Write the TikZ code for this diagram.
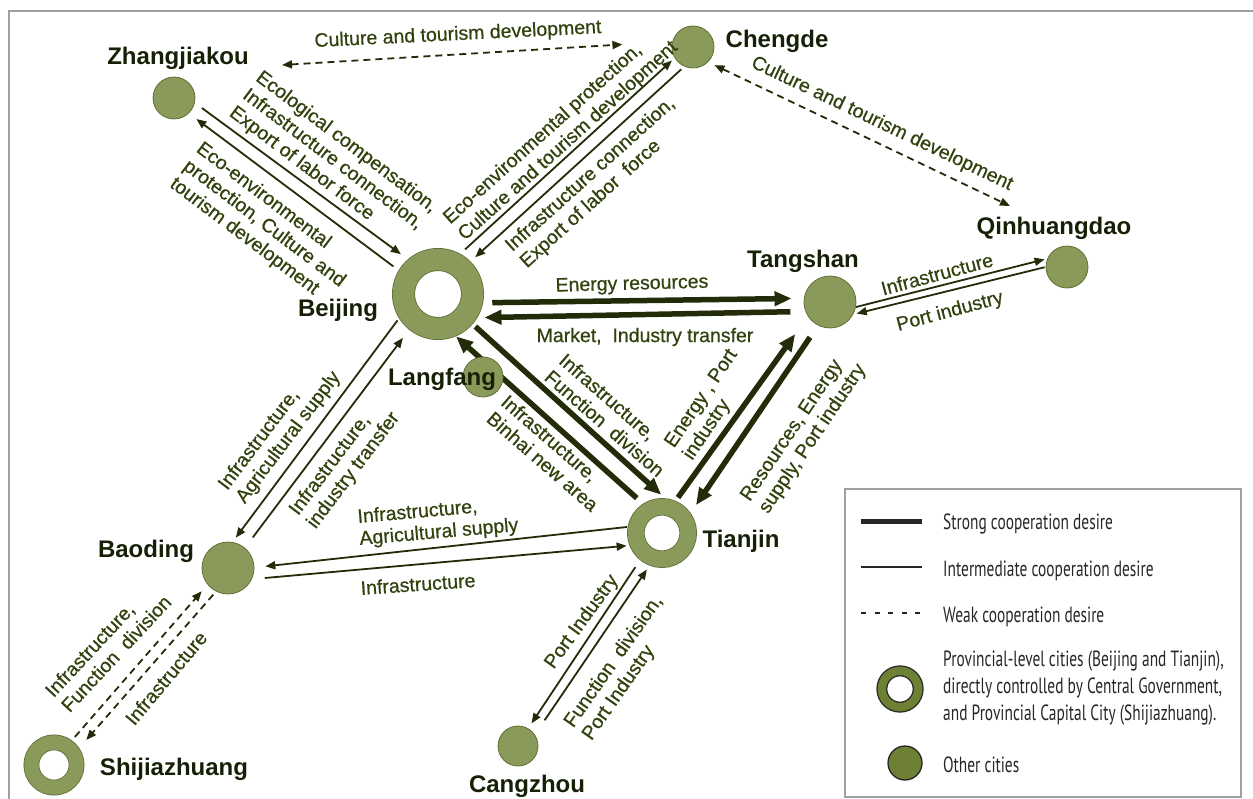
\documentclass[tikz,border=0pt]{standalone}
\usepackage{fontspec}
\setmainfont{Liberation Sans}
\newfontfamily\labelfont{Liberation Sans}[FakeBold=0.6]
\newfontfamily\legendfont{PT Sans}[FakeStretch=0.7]
\usetikzlibrary{arrows.meta}
\pgfdeclarelayer{bg}
\pgfsetlayers{bg,main}
\definecolor{cityfill}{RGB}{138,154,91}
\definecolor{cityedge}{RGB}{96,110,52}
\definecolor{linkcol}{RGB}{34,44,8}
\definecolor{labcol}{RGB}{50,66,14}
\definecolor{namecol}{RGB}{22,32,6}
\definecolor{keyfill}{RGB}{110,128,52}
\definecolor{framecol}{RGB}{160,160,160}

\begin{document}
\begin{tikzpicture}[x=1pt, y=-1pt,
  >={Triangle[length=10pt,width=8pt]},
  city/.style={circle, fill=cityfill, draw=cityedge, line width=0.8pt, inner sep=0pt, minimum size=#1},
  city/.default=42pt,
  ring/.style n args={3}{circle, draw=cityedge, line width=0.8pt, double=cityfill,
              double distance=#2, fill=white, inner sep=0pt, minimum size=#1, outer sep=#3},
  cname/.style={font=\bfseries\fontsize{24}{28}\selectfont, text=namecol, inner sep=0pt, anchor=base},
  lab/.style={font=\labelfont\fontsize{19.5}{22}\selectfont, text=labcol, align=left, inner sep=0pt},
  mid/.style={draw=linkcol, line width=1.8pt, ->},
  strong/.style={draw=linkcol, line width=5.5pt, -{Triangle[length=17pt,width=14pt]}},
  weak/.style={draw=linkcol, line width=1.8pt, dash pattern=on 7pt off 5pt},
  keytxt/.style={font=\legendfont\fontsize{22}{27}\selectfont, text=black!85, align=left, inner sep=0pt}]
\useasboundingbox (0,0) rectangle (1253,799);
\draw[framecol, line width=1.2pt] (1253,11) -- (9,11) -- (9,799);

\node[ring={69pt}{21.4pt}{11.5pt}] (bj) at (438,294) {};
\node[ring={52.5pt}{15.9pt}{8.75pt}] (tj) at (662,533) {};
\node[ring={45.2pt}{14.2pt}{7.9pt}] (sjz) at (54,765) {};
\node[city] (zj) at (174,98) {};
\node[city] (cd) at (693,47) {};
\node[city=40pt] (lf) at (483,377) {};
\node[city=52pt] (ts) at (830,302) {};
\node[city] (qhd) at (1067,267) {};
\node[city=52pt] (bd) at (228,568) {};
\node[city=40pt] (cz) at (518,746) {};

\node[cname] (zjl) at (178,65) {Zhangjiakou};
\node[cname] (cdl) at (777,48) {Chengde};
\node[cname] (bjl) at (338,317) {Beijing};
\node[cname] (lfl) at (442,386) {Langfang};
\node[cname] (tsl) at (803,268) {Tangshan};
\node[cname] (qhdl) at (1054,235) {Qinhuangdao};
\node[cname] (tjl) at (741,547) {Tianjin};
\node[cname] (bdl) at (146,557) {Baoding};
\node[cname] (sjzl) at (174,775) {Shijiazhuang};
\node[cname] (czl) at (527,792) {Cangzhou};

\coordinate (zjcd) at (282,65);
\coordinate (cdqhd) at (1010,206);
\begin{pgfonlayer}{bg}
\draw[weak, <->, shorten >=50pt] (zjcd) -- (cd.165);
\draw[weak, <->, shorten <=7pt] (cd.-45) -- (cdqhd);
\draw[mid, shorten <=8.8pt, shorten >=8.6pt] (zj.-13.6) -- (bj.131.3);
\draw[mid, shorten <=6.5pt, shorten >=9.4pt] (bj.149) -- (zj.-46.3);
\draw[mid, shorten <=6.4pt, shorten >=3.7pt] (bj.61.5) -- (cd.211.8);
\draw[mid, shorten <=4.1pt, shorten >=6.3pt] (cd.246.5) -- (bj.45);
\draw[strong, shorten <=9.1pt, shorten >=12.3pt] (bj.-11.5) -- (ts.172.5);
\draw[strong, shorten <=14.9pt, shorten >=7pt] (ts.201.5) -- (bj.-31.9);
\draw[mid, shorten >=2.8pt] (ts.-11.3) -- (qhd.157.8);
\draw[mid, shorten <=1pt, shorten >=3.5pt] (qhd.180) -- (ts.-28.3);
\draw[strong, shorten <=3.6pt, shorten >=5.1pt] (bj.-41.7) -- (tj.85.7);
\draw[strong, shorten <=8.3pt] (tj.123.7) -- (bj.-67.5);
\draw[strong, shorten <=4pt, shorten >=21.7pt] (tj.67.4) -- (ts.213);
\draw[strong, shorten <=14.2pt, shorten >=9.4pt] (ts.243.4) -- (tj.35.8);
\draw[mid, shorten <=2.5pt, shorten >=5.4pt] (bj.212.4) -- (bd.80.8);
\draw[mid, shorten <=13pt, shorten >=10.2pt] (bd.50.2) -- (bj.231.5);
\draw[mid, shorten <=0.5pt, shorten >=11pt] (tj.170.3) -- (bd.1.5);
\draw[mid, shorten <=12.9pt, shorten >=2.7pt] (bd.-25.9) -- (tj.201.8);
\draw[weak, ->, shorten <=4.5pt, shorten >=8.8pt] (sjz.54.1) -- (bd.219.2);
\draw[weak, ->, shorten <=4.2pt, shorten >=10.7pt] (bd.243.4) -- (sjz.34.4);
\draw[mid, shorten <=8.4pt, shorten >=6pt] (tj.231.5) -- (cz.60.8);
\draw[mid, shorten <=17.3pt, shorten >=4.6pt] (cz.34.3) -- (tj.249.3);
\end{pgfonlayer}

\node[lab, rotate=2.8] (l1) at (458,35) {Culture and tourism development};
\node[lab, rotate=-25.5] (l2) at (882,124) {Culture and tourism development};
\node[lab, rotate=-37] (l3) at (333,160) {Ecological compensation,\\Infrastructure connection,\\Export of labor force};
\node[lab, rotate=-37] (l4) at (264,224) {Eco-environmental\\protection, Culture and\\tourism development};
\node[lab, rotate=42] (l5) at (561,133) {Eco-environmental protection,\\Culture and tourism development};
\node[lab, rotate=42] (l6) at (598,183) {Infrastructure connection,\\Export of labor\ \ force};
\node[lab, rotate=1.5] (l7) at (632,285) {Energy resources};
\node[lab] (l8) at (645,337) {Market,\ \ Industry transfer};
\node[lab, rotate=15] (l9) at (937,274) {Infrastructure};
\node[lab, rotate=15] (l10) at (950,312) {Port industry};
\node[lab, rotate=-41] (l11) at (612,415) {Infrastructure,\\Function\ \ division};
\node[lab, rotate=-41] (l12) at (550,453) {Infrastructure,\\Binhai new area};
\node[lab, rotate=56] (l13) at (711,405) {Energy , Port\\industry};
\node[lab, rotate=56] (l14) at (804,433) {Resources, Energy\\supply, Port industry};
\node[lab, rotate=53] (l15) at (280,431) {Infrastructure,\\Agricultural supply};
\node[lab, rotate=53] (l16) at (345,464) {Infrastructure,\\industry transfer};
\node[lab, rotate=5] (l17) at (438,522) {Infrastructure,\\Agricultural supply};
\node[lab, rotate=4] (l18) at (418,584) {Infrastructure};
\node[lab, rotate=47] (l19) at (108,646) {Infrastructure,\\Function\ \ division};
\node[lab, rotate=50] (l20) at (166,678) {Infrastructure};
\node[lab, rotate=54] (l21) at (582,622) {Port Industry};
\node[lab, rotate=55] (l22) at (623,668) {Function\ \ division,\\Port Industry};

\node[draw=framecol, line width=1.2pt, minimum width=396pt, minimum height=308pt] (key) at (1043,643) {};
\draw[line width=5pt, black!85] (861,521) -- (922,521);
\draw[line width=2.5pt, black!85] (861,567) -- (922,567);
\draw[line width=2pt, black!85, dash pattern=on 5pt off 8.5pt] (861,613) -- (922,613);
\node[circle, draw=black!85, line width=1.3pt, double=keyfill, double distance=8.4pt,
      fill=white, inner sep=0pt, minimum size=36.3pt] (kring) at (900,689) {};
\node[circle, draw=black!85, line width=1.3pt, fill=keyfill, inner sep=0pt,
      minimum size=34pt] (kcity) at (905,763) {};
\node[keytxt, anchor=base west] (k1) at (943,529) {Strong cooperation desire};
\node[keytxt, anchor=base west] (k2) at (943,576) {Intermediate cooperation desire};
\node[keytxt, anchor=base west] (k3) at (943,622) {Weak cooperation desire};
\node[keytxt, anchor=west] (k4) at (943,688) {Provincial-level cities (Beijing and Tianjin),\\directly controlled by Central Government,\\and Provincial Capital City (Shijiazhuang).};
\node[keytxt, anchor=base west] (k5) at (943,772) {Other cities};
\end{tikzpicture}
\end{document}
